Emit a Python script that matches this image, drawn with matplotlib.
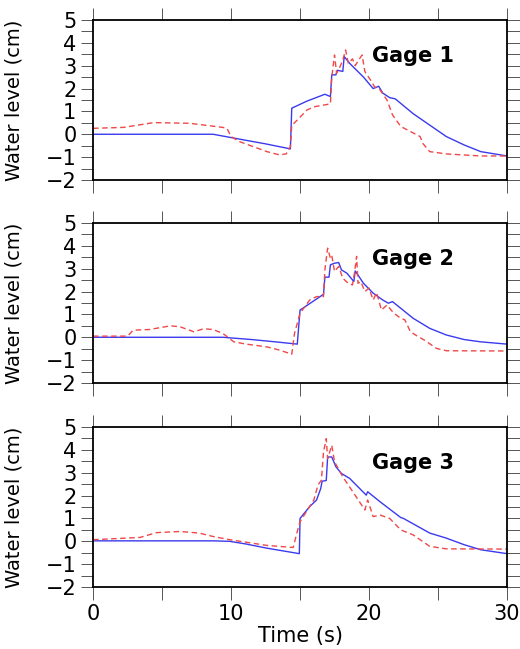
import matplotlib
matplotlib.use("Agg")
from matplotlib import pyplot as plt
from matplotlib.ticker import MultipleLocator

# gage records: solid blue = model, dashed red = measured
gages = ["Gage 1", "Gage 2", "Gage 3"]

t_model_1 = [0, 8.7, 10.5, 12.5, 14.3, 14.4, 15.5, 16.8, 17.2, 17.3, 17.6, 17.7, 18.1, 18.2,
             18.6, 19.6, 20.3, 20.7, 21.0, 21.5, 21.9, 23.2, 24.4, 25.6, 26.9, 28.1, 30]
wl_model_1 = [0, 0, -0.2, -0.42, -0.64, 1.14, 1.45, 1.75, 1.65, 2.6, 2.6, 2.8, 2.75, 3.4,
              3.1, 2.5, 2.0, 2.1, 1.8, 1.6, 1.55, 0.9, 0.4, -0.1, -0.47, -0.76, -0.95]
t_obs_1 = [0, 2.2, 4.4, 7.0, 9.4, 9.7, 10.0, 10.6, 11.6, 12.6, 13.5, 14.0, 14.3, 14.4, 14.6,
           15.5, 16.0, 17.2, 17.3, 17.5, 17.65, 17.9, 18.1, 18.3, 18.5, 18.8, 19.0, 19.25,
           19.5, 19.7, 20.1, 20.4, 20.8, 21.3, 21.7, 22.3, 23.0, 23.7, 23.9, 24.4, 25.6, 28.1, 30]
wl_obs_1 = [0.26, 0.3, 0.51, 0.48, 0.3, 0.26, -0.1, -0.32, -0.54, -0.76, -0.9, -0.86, -0.54,
            0.4, 0.5, 1.06, 1.2, 1.33, 2.5, 3.47, 2.67, 2.96, 3.25, 3.69, 3.1, 3.3, 3.0, 3.25,
            3.47, 2.74, 2.38, 2.08, 1.94, 1.5, 0.85, 0.34, 0.12, -0.1, -0.4, -0.76, -0.86,
            -0.95, -0.95]

t_model_2 = [0, 9.4, 11.5, 13.2, 14.8, 15.0, 15.2, 16.7, 16.8, 17.1, 17.2, 17.5, 17.8, 18.0,
             18.4, 18.9, 19.0, 19.6, 20.3, 21.0, 21.4, 21.7, 23.2, 24.4, 25.6, 26.9, 28.1, 30]
wl_model_2 = [0, 0, -0.1, -0.2, -0.3, 1.19, 1.27, 1.88, 2.63, 2.63, 3.17, 3.24, 3.27, 2.95,
              2.8, 2.44, 2.9, 2.36, 1.93, 1.63, 1.49, 1.56, 0.83, 0.39, 0.1, -0.1, -0.2, -0.3]
t_obs_2 = [0, 2.5, 2.9, 4.1, 5.6, 6.3, 7.3, 8.0, 8.7, 9.4, 10.2, 11.1, 12.6, 13.5, 14.4, 14.6,
           15.0, 15.7, 16.2, 16.7, 16.8, 17.0, 17.2, 17.3, 17.5, 17.8, 18.1, 18.5, 18.8, 18.95,
           19.1, 19.2, 19.4, 19.7, 20.0, 20.3, 20.55, 20.9, 21.3, 21.8, 22.3, 22.6, 23.0, 23.5,
           24.0, 24.9, 25.6, 30]
wl_obs_2 = [0.05, 0.05, 0.31, 0.34, 0.5, 0.46, 0.24, 0.37, 0.34, 0.17, -0.2, -0.3, -0.42,
            -0.56, -0.74, 0.17, 1.05, 1.63, 1.78, 1.78, 2.95, 3.9, 3.46, 3.57, 2.88, 3.1, 2.58,
            2.36, 2.29, 2.83, 3.54, 2.36, 2.44, 2.0, 2.15, 1.63, 1.95, 1.19, 1.41, 1.05, 0.83,
            0.76, 0.24, 0.05, -0.12, -0.49, -0.59, -0.6]

t_model_3 = [0, 8.7, 9.9, 11.1, 12.6, 14.95, 15.0, 15.2, 15.7, 16.2, 16.5, 16.6, 16.9, 17.0,
             17.3, 17.6, 18.0, 18.6, 19.8, 19.9, 20.8, 22.3, 22.5, 24.4, 25.6, 26.9, 28.1, 30]
wl_model_3 = [0.02, 0.02, 0, -0.12, -0.3, -0.54, 1.0, 1.15, 1.52, 1.81, 2.31, 2.63, 2.66, 3.69,
              3.69, 3.26, 2.97, 2.75, 2.02, 2.17, 1.73, 1.04, 1.0, 0.36, 0.14, -0.15, -0.37, -0.54]
t_obs_3 = [0, 3.4, 4.6, 6.3, 7.7, 8.7, 9.9, 11.1, 12.6, 14.5, 14.8, 15.0, 16.0, 16.3, 16.55,
           16.7, 16.9, 17.0, 17.3, 17.5, 18.1, 18.9, 19.7, 19.9, 20.3, 20.8, 21.5, 22.3, 23.2,
           24.4, 25.6, 30]
wl_obs_3 = [0.07, 0.17, 0.38, 0.43, 0.36, 0.21, 0.07, -0.04, -0.18, -0.27, 0.43, 0.86, 1.81,
            2.46, 2.68, 3.91, 4.49, 3.62, 4.2, 3.48, 2.82, 2.1, 1.37, 1.81, 1.08, 1.15, 1.0,
            0.5, 0.28, -0.22, -0.33, -0.34]

model_t = [t_model_1, t_model_2, t_model_3]
model_wl = [wl_model_1, wl_model_2, wl_model_3]
obs_t = [t_obs_1, t_obs_2, t_obs_3]
obs_wl = [wl_obs_1, wl_obs_2, wl_obs_3]

plt.rcParams['font.family'] = ['DejaVu Sans']

fig = plt.figure(figsize=(5.2, 6.49), dpi=100)
bottoms = [0.7227, 0.4099, 0.0955]

for i in range(3):
    ax = fig.add_axes([0.179, bottoms[i], 0.796, 0.2465])
    ax.plot(model_t[i], model_wl[i], color="#3a3aee", linewidth=1.0)
    ax.plot(obs_t[i], obs_wl[i], color="#f04848", linewidth=1.0, linestyle=(0, (4, 2.5)))
    ax.set_xlim(0, 30)
    ax.set_ylim(-2, 5)
    ax.xaxis.set_major_locator(MultipleLocator(10))
    ax.xaxis.set_minor_locator(MultipleLocator(5))
    ax.yaxis.set_major_locator(MultipleLocator(1))
    ax.yaxis.set_minor_locator(MultipleLocator(0.5))
    ax.tick_params(which="both", direction="out", length=9, width=0.7, color="#555555",
                   top=True, right=True, labelsize=15, pad=3)
    if i < 2:
        ax.tick_params(labelbottom=False)
    else:
        ax.set_xlabel("Time (s)", fontsize=15)
        ax.xaxis.set_label_coords(0.5, -0.245)
    for s in ax.spines.values():
        s.set_linewidth(1.3)
    ax.set_ylabel("Water level (cm)", fontsize=14)
    ax.yaxis.set_label_coords(-0.167, 0.5)
    ax.text(0.674, 0.775, gages[i], transform=ax.transAxes, fontsize=15,
            fontweight="bold", va="center")

plt.savefig("out.png", dpi=100)
